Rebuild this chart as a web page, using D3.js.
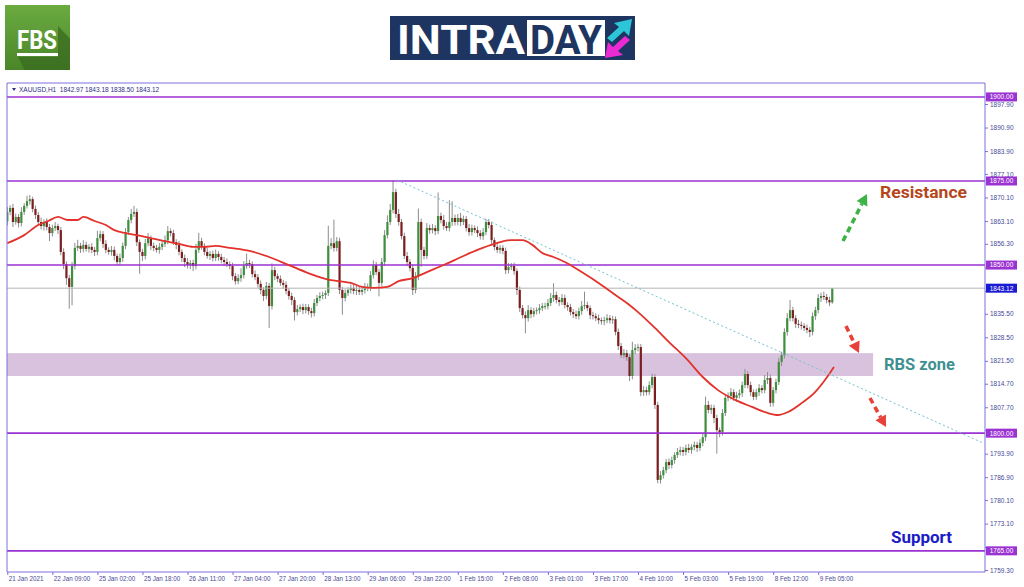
<!DOCTYPE html>
<html><head><meta charset="utf-8">
<script src="https://cdn.jsdelivr.net/npm/d3@7"></script>
<style>body{margin:0;background:#fff}svg{display:block}</style>
</head><body>
<svg id="c" width="1024" height="587"></svg>
<script>
// ---------- DATA ----------
const timeLabels = ["21 Jan 2021","22 Jan 09:00","25 Jan 02:00","25 Jan 18:00","26 Jan 11:00","27 Jan 04:00","27 Jan 20:00","28 Jan 13:00","29 Jan 06:00","29 Jan 22:00","1 Feb 15:00","2 Feb 08:00","3 Feb 01:00","3 Feb 17:00","4 Feb 10:00","5 Feb 03:00","5 Feb 19:00","8 Feb 12:00","9 Feb 05:00"];
const barsPerLabel = 16;
const priceTicks = [1897.9,1890.9,1883.9,1877.1,1870.1,1863.1,1856.3,1849.3,1842.3,1835.5,1828.5,1821.5,1814.7,1807.7,1800.9,1793.9,1786.9,1780.1,1773.1,1766.1,1759.3];
const levels = [1900, 1875, 1850, 1800, 1765];
const lastPrice = 1843.12;
const zoneLow = 1817.0, zoneHigh = 1823.8, zoneEndBar = 307.5;
const trendBars = [138.4, 346.5];
const trendPrices = [1875.3, 1797.1];
const firstOpen = 1863.0;
const closes = [
1865.8,1867.0,1862.8,1864.3,1862.5,1865.8,1867.6,1869.0,1869.6,1866.7,1864.9,1862.8,1861.6,1862.8,1861.3,1859.5,
1861.0,1861.6,1860.4,1853.9,1850.3,1846.1,1843.5,1849.7,1855.1,1855.7,1854.8,1856.0,1854.8,1855.4,1854.5,1853.9,
1858.0,1859.2,1856.3,1854.5,1853.9,1854.5,1852.7,1850.9,1852.1,1855.7,1859.8,1863.4,1865.2,1865.8,1856.8,1853.9,
1852.7,1856.5,1858.0,1855.7,1855.1,1854.5,1855.4,1856.3,1857.4,1860.1,1859.5,1856.8,1856.0,1853.9,1852.1,1850.9,
1850.0,1850.6,1849.7,1854.5,1857.1,1855.7,1853.9,1852.7,1853.3,1852.1,1853.3,1852.4,1851.5,1850.9,1850.3,1849.7,
1846.7,1845.2,1846.1,1847.0,1849.7,1850.6,1850.3,1847.3,1846.4,1844.4,1842.6,1840.8,1843.8,1837.8,1848.5,1846.7,
1845.9,1844.7,1844.1,1842.3,1840.8,1839.6,1836.0,1836.9,1837.5,1836.6,1837.5,1836.3,1835.7,1838.7,1840.2,1840.8,
1841.1,1841.7,1855.7,1856.5,1855.1,1857.1,1842.6,1840.2,1841.7,1842.6,1843.2,1842.3,1842.6,1842.0,1842.6,1843.2,
1843.5,1847.0,1850.0,1847.9,1844.7,1850.9,1858.9,1862.8,1866.4,1871.7,1865.2,1862.8,1858.6,1852.7,1850.9,1849.1,
1842.6,1846.7,1862.8,1854.5,1852.7,1861.0,1860.4,1861.0,1860.1,1864.6,1863.4,1861.6,1861.0,1862.8,1864.0,1862.8,
1864.0,1862.8,1863.7,1861.0,1859.8,1861.0,1860.4,1859.5,1858.6,1859.8,1862.8,1861.9,1857.4,1855.4,1854.5,1855.1,
1854.2,1848.5,1849.4,1849.7,1848.2,1842.6,1837.2,1835.1,1834.2,1836.6,1835.4,1836.3,1836.6,1837.2,1837.8,1837.8,
1838.7,1840.2,1841.1,1839.6,1839.0,1840.2,1838.1,1837.5,1836.0,1835.4,1834.8,1836.3,1837.8,1838.1,1837.2,1835.1,
1834.8,1834.2,1833.6,1833.3,1833.6,1834.2,1833.6,1833.9,1830.1,1825.9,1823.2,1823.8,1822.6,1817.0,1824.7,1825.3,
1825.6,1812.2,1812.8,1812.2,1814.3,1816.7,1808.4,1786.1,1787.5,1789.0,1791.4,1790.5,1792.0,1793.5,1794.4,1795.0,
1794.4,1795.6,1795.0,1795.9,1796.5,1795.6,1797.1,1798.8,1808.4,1806.9,1807.5,1804.5,1800.9,1800.3,1806.0,1810.5,
1811.1,1812.2,1810.5,1811.3,1811.9,1814.3,1817.6,1814.3,1812.2,1810.8,1812.2,1813.4,1812.8,1815.8,1816.4,1809.0,
1812.8,1815.2,1821.2,1823.2,1830.1,1834.2,1836.6,1834.2,1832.5,1832.2,1831.9,1831.3,1830.7,1830.1,1834.8,1836.6,
1840.2,1840.8,1840.5,1839.6,1838.9,1843.12];
const upperWick = [
1.5,0.8,1.2,1.0,0.9,1.4,0.8,1.6,1.2,0.7,1.0,0.9,1.3,0.8,1.1,0.9,
1.0,1.2,0.7,0.9,1.1,0.8,1.0,1.2,1.5,1.8,0.9,1.4,1.0,0.8,1.1,0.9,
2.2,1.0,0.9,1.1,0.8,1.2,1.0,0.7,1.3,1.0,1.2,0.9,1.5,1.8,1.0,0.8,
0.9,1.3,1.5,0.8,1.0,0.9,1.2,1.0,1.4,1.5,0.8,1.0,0.9,1.2,0.8,1.0,
1.2,0.9,1.0,1.8,2.5,1.0,0.8,1.2,0.9,1.0,1.3,0.8,1.0,0.9,1.1,0.8,
1.0,0.9,1.2,2.0,1.5,2.8,1.0,0.8,1.1,0.9,1.0,0.8,1.2,0.9,2.0,1.0,
0.8,1.0,0.9,1.1,0.8,1.0,0.9,1.2,0.8,1.0,0.9,0.8,1.0,1.2,0.9,1.1,
1.0,0.8,6.0,1.5,7.0,1.2,1.0,0.9,1.1,0.8,1.0,0.9,1.2,1.0,0.8,1.5,
1.0,1.2,1.4,1.0,0.9,1.2,1.5,2.0,1.8,3.5,1.0,1.5,0.9,1.0,1.2,0.8,
1.0,1.2,4.0,1.0,0.9,1.5,1.0,1.2,0.9,7.0,1.0,1.5,1.2,6.5,5.0,1.0,
1.2,1.5,1.0,0.9,1.2,1.0,0.8,1.1,0.9,1.2,1.0,0.9,1.0,0.8,1.2,0.9,
0.8,1.0,1.2,0.9,1.0,0.8,1.0,0.9,1.1,1.5,0.9,1.0,0.8,1.2,0.9,1.0,
1.2,1.5,3.5,1.0,0.9,1.2,1.0,0.8,1.0,0.9,1.1,1.0,1.5,4.0,1.0,0.8,
1.0,0.9,1.1,0.8,1.0,1.2,0.9,1.0,0.8,1.0,0.9,1.2,1.0,0.8,2.5,1.2,
1.0,0.9,1.2,1.0,1.1,1.0,0.8,0.9,1.2,1.0,0.9,1.1,1.0,0.8,1.2,1.0,
0.9,1.0,1.2,0.8,1.0,0.9,1.1,1.0,2.5,1.2,1.0,0.9,1.0,0.8,1.2,1.0,
1.0,1.2,0.9,1.0,1.1,1.0,1.5,0.9,1.0,0.8,1.0,1.2,0.9,1.5,1.8,1.0,
0.9,1.0,1.2,1.0,1.1,1.5,3.0,1.0,0.9,1.2,1.0,0.8,1.0,0.9,1.1,1.0,
1.2,1.0,1.3,0.9,1.0,0.06];
const lowerWick = [
1.2,1.0,1.5,0.8,1.3,1.0,0.9,0.8,1.1,1.0,1.2,0.9,1.0,1.3,1.0,2.4,
1.0,0.9,1.2,1.0,1.5,2.0,6.5,5.5,1.0,0.9,1.2,1.0,0.8,1.1,1.0,1.2,
1.0,0.9,1.2,1.0,0.8,1.1,1.3,1.0,0.9,1.2,1.0,0.8,1.0,0.9,1.2,6.5,
1.5,1.0,0.9,1.2,1.0,0.8,1.1,1.0,0.9,1.2,1.0,0.8,1.3,1.0,1.2,1.5,
1.0,1.2,1.5,1.0,0.9,1.1,1.0,0.8,1.2,1.0,0.9,1.1,1.0,1.2,0.9,1.0,
1.2,1.0,0.9,1.1,1.0,0.8,1.2,1.0,0.9,1.1,1.3,1.5,1.0,6.5,1.0,1.2,
1.0,0.9,1.2,1.0,1.1,1.5,2.5,1.0,0.9,1.2,1.0,1.1,1.3,1.0,0.9,1.0,
1.0,1.2,0.9,1.0,1.1,1.0,1.2,5.0,1.0,0.9,1.1,1.0,1.2,0.9,1.0,1.1,
1.0,1.2,1.0,0.9,4.0,1.0,1.2,1.0,0.9,1.0,1.2,1.1,1.0,0.9,1.2,1.0,
1.5,1.0,1.2,5.0,1.0,0.9,1.1,1.0,1.2,0.9,1.0,1.1,0.9,1.0,1.2,1.0,
1.0,1.2,0.9,1.0,1.1,1.0,0.9,1.2,1.0,1.1,0.9,1.0,1.2,1.0,0.9,1.1,
1.0,1.2,1.0,0.9,1.1,1.5,1.2,1.0,4.5,1.0,1.2,0.9,1.0,1.1,0.9,1.0,
1.0,0.9,1.1,1.0,1.2,0.9,1.0,1.1,1.0,1.2,0.9,1.0,1.1,1.0,0.9,1.2,
1.0,0.9,1.1,1.0,1.2,0.9,1.0,1.1,1.0,1.2,0.9,1.0,1.1,1.5,1.0,1.2,
1.0,1.2,1.1,1.0,0.9,1.0,1.2,1.0,1.1,1.0,0.9,1.2,1.0,1.1,0.9,1.0,
1.2,1.0,0.9,1.1,1.0,1.2,0.9,1.0,1.1,1.0,1.2,1.5,7.0,1.5,1.0,0.9,
1.0,1.1,0.9,1.2,1.0,1.1,0.9,1.0,1.2,1.0,0.9,1.1,1.0,0.9,1.2,1.2,
1.1,1.0,0.9,1.2,1.0,1.1,0.9,1.0,1.2,1.0,1.1,0.9,1.0,1.5,1.0,1.1,
1.0,1.2,0.9,1.0,1.1,0.4];
const maBars = [0,6,11,14.5,18,21.5,25,27,31,35,38,42,46,51,56,61,66,70,74,79,86,93,100,106,111,115,118,122,126,130,135,139,144,149,155,162,167,173,179,183,186.5,190,194,198,204,211,217,220.5,224,230,235,241,247,252.4,258.5,264.5,270,273.7,277.3,282.2,286.9,290.4,293.6];
const maValues = [1856.5,1858.9,1861.9,1863.1,1864.3,1863.4,1863.4,1864.3,1863.1,1861.9,1860.4,1859.5,1858.9,1858.0,1857.1,1856.3,1855.4,1855.4,1855.7,1855.1,1854.2,1852.4,1850.0,1847.9,1846.4,1845.5,1845.2,1844.7,1843.5,1843.2,1843.5,1845.2,1846.1,1847.9,1850.0,1852.7,1854.5,1856.3,1857.4,1857.4,1856.0,1853.6,1852.4,1850.9,1847.9,1844.1,1840.5,1838.4,1836.0,1831.3,1827.1,1822.3,1816.7,1812.8,1809.9,1807.8,1806.0,1805.4,1806.3,1809.0,1812.2,1815.8,1819.7];

// ---------- SETUP ----------
const svg = d3.select("#c");
const L = 7, R = 985, T = 83, B = 572;
const x = d3.scaleLinear().domain([0, barsPerLabel]).range([7.3, 52.35]);
const y = d3.scaleLinear().domain([1759.3, 1897.9]).range([570, 104]);
const frameColor = "#7c70dc", textColor = "#4a4a96", purple = "#9b32d2";

const bars = closes.map((c, i) => {
  const o = i ? closes[i - 1] : firstOpen;
  return {i, o, c, h: Math.max(o, c) + upperWick[i], l: Math.min(o, c) - lowerWick[i]};
});

// logos
const defs = svg.append("defs");
const g1 = defs.append("linearGradient").attr("id","fbsg").attr("x1","0").attr("y1","0").attr("x2","0").attr("y2","1");
g1.append("stop").attr("offset","0").attr("stop-color","#6aab40");
g1.append("stop").attr("offset","1").attr("stop-color","#4a8629");
defs.append("clipPath").attr("id","plotclip").append("rect").attr("x",L).attr("y",T).attr("width",R-L).attr("height",B-T);
defs.append("clipPath").attr("id","fbsclip").append("rect").attr("x",5).attr("y",5).attr("width",65).attr("height",65);

svg.append("rect").attr("x",5).attr("y",5).attr("width",65).attr("height",65).attr("fill","url(#fbsg)");
svg.append("path").attr("clip-path","url(#fbsclip)").attr("d","M18,57 L58,57 L58,26 L100,70 L40,100 Z").attr("fill","#3a6b20").attr("opacity",0.75);
svg.append("text").attr("x",17).attr("y",49).attr("font-family","Roboto, sans-serif").attr("font-weight",700)
  .attr("font-size",26).attr("fill","#fff").attr("textLength",40).attr("lengthAdjust","spacingAndGlyphs").text("FBS");
svg.append("rect").attr("x",17).attr("y",53).attr("width",41).attr("height",3).attr("fill","#fff");

svg.append("rect").attr("x",390).attr("y",16).attr("width",245).attr("height",44).attr("fill","#1d3560");
svg.append("text").attr("x",397).attr("y",54).attr("font-family","Roboto, sans-serif").attr("font-weight",700)
  .attr("font-size",41).attr("fill","#fff").attr("textLength",128).attr("lengthAdjust","spacingAndGlyphs").text("INTRA");
svg.append("rect").attr("x",527).attr("y",20).attr("width",78).attr("height",36).attr("fill","#fff");
svg.append("text").attr("x",530).attr("y",54).attr("font-family","Roboto, sans-serif").attr("font-weight",700)
  .attr("font-size",41).attr("fill","#1d3560").attr("textLength",72).attr("lengthAdjust","spacingAndGlyphs").text("DAY");
svg.append("path").attr("d","M607,38 L619,27 L614,23 L632,19 L629,36 L624,31 L612,42 Z").attr("fill","#2cc6d8");
svg.append("path").attr("d","M630,40 L618,51 L623,55 L605,58 L608,42 L613,47 L625,36 Z").attr("fill","#ea2bd3");

// ---------- PLOT ----------
const plot = svg.append("g").attr("clip-path","url(#plotclip)");
plot.append("rect").attr("x",L).attr("y",y(zoneHigh)).attr("width",x(zoneEndBar)-L)
  .attr("height",y(zoneLow)-y(zoneHigh)).attr("fill","#d9c2dd");

// candles
const cg = plot.append("g");
cg.selectAll("line.w").data(bars).join("line").attr("class","w")
  .attr("x1",d=>x(d.i)).attr("x2",d=>x(d.i)).attr("y1",d=>y(d.h)).attr("y2",d=>y(d.l))
  .attr("stroke","#8d8d8d").attr("stroke-width",1);
cg.selectAll("rect.b").data(bars).join("rect").attr("class","b")
  .attr("x",d=>x(d.i)-1.1).attr("width",2.2)
  .attr("y",d=>y(Math.max(d.o,d.c)))
  .attr("height",d=>Math.max(1,Math.abs(y(d.o)-y(d.c))))
  .attr("fill",d=>d.c>=d.o?"#3e8e3e":"#7d1e1e");

// levels
plot.selectAll("line.lvl").data(levels).join("line").attr("class","lvl")
  .attr("x1",L).attr("x2",R).attr("y1",d=>y(d)).attr("y2",d=>y(d))
  .attr("stroke",purple).attr("stroke-width",1.6);
plot.append("line").attr("x1",L).attr("x2",R).attr("y1",y(lastPrice)).attr("y2",y(lastPrice))
  .attr("stroke","#b4b4b4").attr("stroke-width",1);

// MA
plot.append("path").datum(maBars.map((b,i)=>[b,maValues[i]]))
  .attr("d",d3.line().x(d=>x(d[0])).y(d=>y(d[1])).curve(d3.curveMonotoneX))
  .attr("fill","none").attr("stroke","#e3322b").attr("stroke-width",1.8);

// trend
plot.append("line").attr("x1",x(trendBars[0])).attr("y1",y(trendPrices[0]))
  .attr("x2",x(trendBars[1])).attr("y2",y(trendPrices[1]))
  .attr("stroke","#72c1d2").attr("stroke-width",1).attr("stroke-dasharray","2,2.5");

// frame
svg.append("line").attr("x1",L).attr("x2",R).attr("y1",T).attr("y2",T).attr("stroke",frameColor);
svg.append("line").attr("x1",L).attr("x2",L).attr("y1",T).attr("y2",B).attr("stroke",frameColor);

// header
svg.append("path").attr("d","M12,88 L16,88 L14,91 Z").attr("fill","#2e2e8a");
svg.append("text").attr("x",19).attr("y",91.5).attr("font-family","Liberation Sans, Arial, sans-serif")
  .attr("font-size",6.5).attr("fill","#2e2e8a").attr("xml:space","preserve")
  .text("XAUUSD,H1  1842.97 1843.18 1838.50 1843.12");

// axes
const xAxis = d3.axisBottom(x).tickValues(timeLabels.map((_,k)=>k*barsPerLabel))
  .tickFormat((d,k)=>timeLabels[k]).tickSize(3);
const gx = svg.append("g").attr("transform",`translate(0,${B})`).call(xAxis);
gx.select(".domain").remove();
gx.selectAll(".tick line").attr("stroke",frameColor).attr("y1",0).attr("y2",3);
gx.selectAll(".tick text").attr("text-anchor","start").attr("dx",1).attr("y",5)
  .attr("font-family","Liberation Sans, Arial, sans-serif").attr("font-size",6.3).attr("fill",textColor);
svg.append("line").attr("x1",L).attr("x2",R).attr("y1",B).attr("y2",B).attr("stroke",frameColor);

// tick labels that sit fully under a price tag are hidden (as in the reference)
const tagged = levels.concat([lastPrice]);
const yAxis = d3.axisRight(y).tickValues(priceTicks)
  .tickFormat(v => tagged.some(t => Math.abs(t - v) < 1.5) ? "" : d3.format(".2f")(v)).tickSize(3);
const gy = svg.append("g").attr("transform",`translate(${R},0)`).call(yAxis);
gy.select(".domain").remove();
gy.selectAll(".tick line").attr("stroke",frameColor);
gy.selectAll(".tick text").attr("x",5).attr("font-family","Liberation Sans, Arial, sans-serif")
  .attr("font-size",6.5).attr("fill",textColor);
svg.append("line").attr("x1",R).attr("x2",R).attr("y1",T).attr("y2",B).attr("stroke",frameColor);

// level labels
const lab = svg.append("g");
function tag(v, color) {
  lab.append("rect").attr("x",R+1).attr("y",y(v)-4.5).attr("width",31).attr("height",9).attr("fill",color);
  lab.append("text").attr("x",R+16.5).attr("y",y(v)+2.4).attr("text-anchor","middle")
    .attr("font-family","Liberation Sans, Arial, sans-serif").attr("font-size",6.5).attr("fill","#fff")
    .text(d3.format(".2f")(v));
}
levels.forEach(v=>tag(v, purple));
tag(lastPrice, "#1a1ad2");

// annotations
function txt(s, xx, yy, size, color, w) {
  svg.append("text").attr("x",xx).attr("y",yy).attr("font-family","Roboto, sans-serif").attr("font-weight",700)
    .attr("font-size",size).attr("fill",color).attr("textLength",w).attr("lengthAdjust","spacingAndGlyphs").text(s);
}
txt("Resistance", 880, 198, 16, "#b5461c", 87);
txt("RBS zone", 884, 370, 16, "#3f9191", 71);
txt("Support", 891, 543, 16, "#1c1cc6", 61);

function arrow(x1, y1, x2, y2, color) {
  const ang = Math.atan2(y2 - y1, x2 - x1);
  const hl = 11, hw = 6;
  const bx = x2 - hl * Math.cos(ang), by = y2 - hl * Math.sin(ang);
  svg.append("line").attr("x1",x1).attr("y1",y1).attr("x2",bx).attr("y2",by)
    .attr("stroke",color).attr("stroke-width",3.6).attr("stroke-dasharray","6,4");
  const px = -Math.sin(ang), py = Math.cos(ang);
  svg.append("path").attr("d",`M${x2},${y2} L${bx+px*hw},${by+py*hw} L${bx-px*hw},${by-py*hw} Z`).attr("fill",color);
}
arrow(843, 241, 867, 194, "#3fb246");
arrow(846, 326, 859, 353, "#e8413a");
arrow(870, 398, 886, 427, "#e8413a");
</script>
</body></html>
